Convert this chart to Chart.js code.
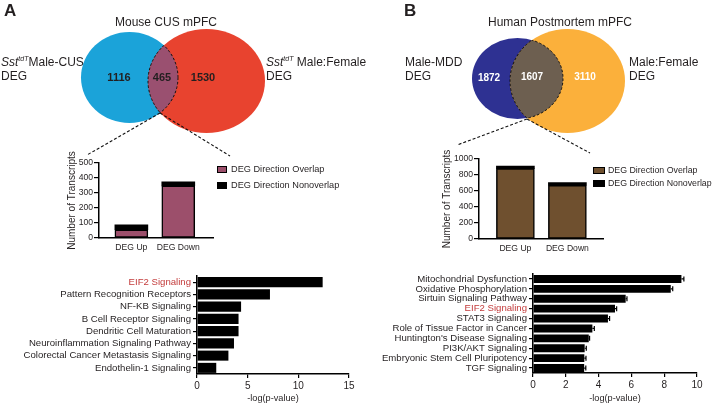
<!DOCTYPE html>
<html>
<head>
<meta charset="utf-8">
<script src="https://cdn.jsdelivr.net/npm/chart.js@4.4.3/dist/chart.umd.min.js"></script>
<style>
  html, body { margin: 0; padding: 0; background: #fff; }
  #fig { position: relative; width: 718px; height: 404px; overflow: hidden;
         font-family: "Liberation Sans", Arial, sans-serif; color: #231f20; }
  #fig canvas { position: absolute; }
  .t { position: absolute; white-space: nowrap; line-height: 1; }
  .c { transform: translateX(-50%); }
  .sup { font-size: 7px; font-style: italic; position: relative; top: -5px; }
  .sq { position: absolute; box-sizing: border-box; border: 1.5px solid #000; }
</style>
</head>
<body>
<div id="fig">
  <canvas id="vennA" width="360" height="165" style="left:0;top:0;width:360px;height:165px"></canvas>
  <canvas id="vennB" width="358" height="165" style="left:360px;top:0;width:358px;height:165px"></canvas>
  <canvas id="barA" width="160" height="105" style="left:60px;top:150px;width:160px;height:105px"></canvas>
  <canvas id="barB" width="180" height="105" style="left:440px;top:150px;width:180px;height:105px"></canvas>
  <canvas id="pathwayA" width="360" height="139" style="left:0;top:265px;width:360px;height:139px"></canvas>
  <canvas id="pathwayB" width="358" height="139" style="left:360px;top:265px;width:358px;height:139px"></canvas>

  <div class="t" style="left:4px;top:2px;font-size:17px;font-weight:bold">A</div>
  <div class="t" style="left:404px;top:2px;font-size:17px;font-weight:bold">B</div>

  <div class="t c" style="left:166px;top:16px;font-size:12px">Mouse CUS mPFC</div>
  <div class="t c" style="left:560px;top:16px;font-size:12px">Human Postmortem mPFC</div>

  <div class="t" style="left:1px;top:56px;font-size:12px"><i>Sst</i><span class="sup">tdT</span>Male-CUS</div>
  <div class="t" style="left:1px;top:70px;font-size:12px">DEG</div>
  <div class="t" style="left:266px;top:56px;font-size:12px"><i>Sst</i><span class="sup">tdT</span> Male:Female</div>
  <div class="t" style="left:266px;top:70px;font-size:12px">DEG</div>

  <div class="t" style="left:405px;top:56px;font-size:12px">Male-MDD</div>
  <div class="t" style="left:405px;top:70px;font-size:12px">DEG</div>
  <div class="t" style="left:629px;top:56px;font-size:12px">Male:Female</div>
  <div class="t" style="left:629px;top:70px;font-size:12px">DEG</div>

  <div class="sq" style="left:217px;top:166px;width:10px;height:7px;background:#9c4f6b"></div>
  <div class="sq" style="left:217px;top:182px;width:10px;height:7px;background:#000"></div>
  <div class="t" style="left:231px;top:165px;font-size:9.2px">DEG Direction Overlap</div>
  <div class="t" style="left:231px;top:181px;font-size:9.2px">DEG Direction Nonoverlap</div>

  <div class="sq" style="left:593px;top:167px;width:12px;height:7px;background:#6f502f"></div>
  <div class="sq" style="left:593px;top:180px;width:12px;height:7px;background:#000"></div>
  <div class="t" style="left:608px;top:166px;font-size:8.8px">DEG Direction Overlap</div>
  <div class="t" style="left:608px;top:179px;font-size:8.8px">DEG Direction Nonoverlap</div>
</div>

<script>
// ---- data ----
const vennACounts = [1116, 465, 1530];
const vennBCounts = [1872, 1607, 3110];

const barCats = ['DEG Up', 'DEG Down'];
const barAOverlap = [55, 347];
const barANonoverlap = [32, 28];
const barBOverlap = [880, 672];
const barBNonoverlap = [32, 32];

const pathwaysA = ['EIF2 Signaling', 'Pattern Recognition Receptors', 'NF-KB Signaling',
  'B Cell Receptor Signaling', 'Dendritic Cell Maturation', 'Neuroinflammation Signaling Pathway',
  'Colorectal Cancer Metastasis Signaling', 'Endothelin-1 Signaling'];
const pathwaysAValues = [12.4, 7.2, 4.35, 4.1, 4.1, 3.65, 3.1, 1.9];

const pathwaysB = ['Mitochondrial Dysfunction', 'Oxidative Phosphorylation', 'Sirtuin Signaling Pathway',
  'EIF2 Signaling', 'STAT3 Signaling', 'Role of Tissue Factor in Cancer', "Huntington's Disease Signaling",
  'PI3K/AKT Signaling', 'Embryonic Stem Cell Pluripotency', 'TGF Signaling'];
const pathwaysBValues = [9.05, 8.4, 5.65, 5.0, 4.57, 3.62, 3.4, 3.15, 3.13, 3.12];
const pathwaysBErr = [0.15, 0.12, 0.08, 0.1, 0.1, 0.12, 0.05, 0.1, 0.1, 0.1];

// ---- styling / layout ----
const FONT = '"Liberation Sans", Arial, sans-serif';
const INK = '#231f20';
const HILITE = '#c33b3b';

// venn geometry in canvas units (x right, y down)
const vennALayout = {
  circles: [
    { x: 129.5, y: 77.5, rx: 48.5, ry: 45.5, color: '#1ba3d9' },
    { x: 206.5, y: 81, rx: 58.5, ry: 52, color: '#e8432f' }
  ],
  overlap: '#9a5070',
  nums: [[119, 78], [162, 78], [203, 78]],
  numColor: INK, numSize: 11,
  zoomFrom: [160, 113], zoomTo: [[87, 155], [230, 156]]
};
const vennBLayout = {
  circles: [
    { x: 157.5, y: 78.5, rx: 45.5, ry: 40.5, color: '#2e3192' },
    { x: 207.5, y: 81, rx: 57.5, ry: 52, color: '#fbb03b' }
  ],
  overlap: '#6d5f50',
  nums: [[129, 78], [172, 77], [225, 77]],
  numColor: '#fff', numSize: 10,
  zoomFrom: [167, 119], zoomTo: [[97, 145], [230, 153]]
};

const vennPlugin = {
  id: 'venn',
  afterDatasetsDraw(chart, args, opts) {
    const { ctx } = chart;
    const xs = chart.scales.x, ys = chart.scales.y;
    const lay = opts.layout;
    const path = c => {
      const cx = xs.getPixelForValue(c.x), cy = ys.getPixelForValue(c.y);
      const rx = xs.getPixelForValue(c.x + c.rx) - cx;
      const ry = ys.getPixelForValue(c.y + c.ry) - cy;
      ctx.beginPath();
      ctx.ellipse(cx, cy, Math.abs(rx), Math.abs(ry), 0, 0, Math.PI * 2);
    };
    const [c1, c2] = lay.circles;
    ctx.save();
    path(c1); ctx.fillStyle = c1.color; ctx.fill();
    path(c2); ctx.fillStyle = c2.color; ctx.fill();
    // lens
    ctx.save(); path(c1); ctx.clip();
    path(c2); ctx.fillStyle = lay.overlap; ctx.fill();
    ctx.restore();
    ctx.setLineDash([2.5, 2]);
    ctx.lineWidth = 1;
    ctx.strokeStyle = '#111';
    ctx.save(); path(c2); ctx.clip(); path(c1); ctx.stroke(); ctx.restore();
    ctx.save(); path(c1); ctx.clip(); path(c2); ctx.stroke(); ctx.restore();
    // zoom lines down to the bar chart
    ctx.lineWidth = 1.1;
    ctx.setLineDash([3, 2]);
    lay.zoomTo.forEach(p => {
      ctx.beginPath();
      ctx.moveTo(xs.getPixelForValue(lay.zoomFrom[0]), ys.getPixelForValue(lay.zoomFrom[1]));
      ctx.lineTo(xs.getPixelForValue(p[0]), ys.getPixelForValue(p[1]));
      ctx.stroke();
    });
    ctx.setLineDash([]);
    // counts
    ctx.fillStyle = lay.numColor;
    ctx.font = 'bold ' + lay.numSize + 'px ' + FONT;
    ctx.textAlign = 'center';
    ctx.textBaseline = 'middle';
    opts.counts.forEach((n, i) => {
      ctx.fillText(String(n), xs.getPixelForValue(lay.nums[i][0]), ys.getPixelForValue(lay.nums[i][1]));
    });
    ctx.restore();
  }
};

function makeVenn(id, counts, lay) {
  const el = document.getElementById(id);
  return new Chart(el, {
    type: 'scatter',
    data: { datasets: [{ data: lay.circles.map(c => ({ x: c.x, y: c.y })), pointRadius: 0 }] },
    options: {
      responsive: false, animation: false,
      layout: { padding: 0 },
      plugins: { legend: { display: false }, tooltip: { enabled: false }, venn: { counts, layout: lay } },
      scales: {
        x: { type: 'linear', display: false, min: 0, max: el.width },
        y: { type: 'linear', display: false, min: 0, max: el.height, reverse: true }
      }
    },
    plugins: [vennPlugin]
  });
}

function makeStackBar(id, over, non, o) {
  return new Chart(document.getElementById(id), {
    type: 'bar',
    data: {
      datasets: [
        { label: 'DEG Direction Overlap', data: over.map((v, i) => ({ x: i, y: v })),
          backgroundColor: o.color, borderColor: '#000', borderWidth: 1.5, borderSkipped: false,
          barThickness: o.thick },
        { label: 'DEG Direction Nonoverlap', data: non.map((v, i) => ({ x: i, y: v })),
          backgroundColor: '#000', borderColor: '#000', borderWidth: 0, barThickness: o.thick }
      ]
    },
    options: {
      responsive: false, animation: false,
      layout: { padding: { top: o.padTop, right: o.padRight, left: 0, bottom: 0 } },
      plugins: { legend: { display: false }, tooltip: { enabled: false } },
      scales: {
        x: {
          type: 'linear', stacked: true, min: o.xmin, max: o.xmax, offset: false,
          grid: { display: false, drawTicks: false, offset: false },
          border: { color: '#000', width: 1.5 },
          afterBuildTicks: s => { s.ticks = barCats.map((c, i) => ({ value: i })); },
          ticks: { callback: v => barCats[v], color: INK, font: { size: 8.6, family: FONT },
                   padding: 4, maxRotation: 0, autoSkip: false },
          afterFit: s => { s.height = o.xh; }
        },
        y: {
          stacked: true, min: 0, max: o.ymax,
          ticks: { stepSize: o.step, callback: v => String(v), color: INK,
                   font: { size: 8.6, family: FONT }, padding: 1 },
          grid: { drawOnChartArea: false, tickLength: 5, color: '#000', lineWidth: 1.2 },
          border: { color: '#000', width: 1.5 },
          title: { display: true, text: 'Number of Transcripts', color: INK,
                   font: { size: 10, family: FONT }, padding: { top: o.titlePad, bottom: 0 } },
          afterFit: s => { s.width = o.yw; }
        }
      }
    }
  });
}

const errorBarPlugin = {
  id: 'errbars',
  afterDatasetsDraw(chart, args, opts) {
    if (!opts.err) return;
    const { ctx } = chart;
    const xs = chart.scales.x;
    const meta = chart.getDatasetMeta(0);
    const vals = chart.data.datasets[0].data;
    ctx.save();
    ctx.strokeStyle = '#000';
    ctx.lineWidth = 1.2;
    meta.data.forEach((bar, i) => {
      const x0 = xs.getPixelForValue(vals[i]);
      const x1 = xs.getPixelForValue(vals[i] + opts.err[i]);
      ctx.beginPath();
      ctx.moveTo(x0, bar.y); ctx.lineTo(x1, bar.y);
      ctx.moveTo(x1, bar.y - 2.5); ctx.lineTo(x1, bar.y + 2.5);
      ctx.stroke();
    });
    ctx.restore();
  }
};

function makePathways(id, labels, vals, err, o) {
  return new Chart(document.getElementById(id), {
    type: 'bar',
    data: { labels, datasets: [{ data: vals, backgroundColor: '#000', borderWidth: 0,
                                 barPercentage: o.barPct, categoryPercentage: 1 }] },
    options: {
      indexAxis: 'y',
      responsive: false, animation: false,
      layout: { padding: { top: o.padTop, right: o.padRight, left: 0, bottom: 0 } },
      plugins: { legend: { display: false }, tooltip: { enabled: false }, errbars: { err } },
      scales: {
        x: {
          min: 0, max: o.xmax,
          ticks: { stepSize: o.step, color: INK, font: { size: 10, family: FONT }, padding: 2 },
          grid: { drawOnChartArea: false, tickLength: 4, color: '#000', lineWidth: 1.2 },
          border: { color: '#000', width: 1.5 },
          title: { display: true, text: '-log(p-value)', color: INK,
                   font: { size: 9.2, family: FONT }, padding: 0 },
          afterFit: s => { s.height = o.xh; }
        },
        y: {
          offset: true,
          ticks: { autoSkip: false, padding: 2, font: { size: 9.6, family: FONT },
                   color: c => labels[c.index] === 'EIF2 Signaling' ? HILITE : INK },
          grid: { drawOnChartArea: false, offset: false, tickLength: 4, color: '#000', lineWidth: 1.2 },
          border: { color: '#000', width: 1.5 },
          afterFit: s => { s.width = o.yw; }
        }
      }
    },
    plugins: [errorBarPlugin]
  });
}

makeVenn('vennA', vennACounts, vennALayout);
makeVenn('vennB', vennBCounts, vennBLayout);

makeStackBar('barA', barAOverlap, barANonoverlap,
  { color: '#9c4f6b', thick: 33, xmin: -0.69, xmax: 1.74, ymax: 500, step: 100,
    padTop: 13, padRight: 7, yw: 39, xh: 17, titlePad: 6 });
makeStackBar('barB', barBOverlap, barBNonoverlap,
  { color: '#6f502f', thick: 38, xmin: -0.70, xmax: 1.685, ymax: 1000, step: 200,
    padTop: 9, padRight: 17, yw: 39, xh: 16, titlePad: 1 });

makePathways('pathwayA', pathwaysA, pathwaysAValues, null,
  { xmax: 15, step: 5, padTop: 11, padRight: 11, yw: 197, xh: 30, barPct: 0.82 });
makePathways('pathwayB', pathwaysB, pathwaysBValues, pathwaysBErr,
  { xmax: 10, step: 2, padTop: 9, padRight: 21, yw: 173, xh: 31, barPct: 0.8 });
</script>
</body>
</html>
